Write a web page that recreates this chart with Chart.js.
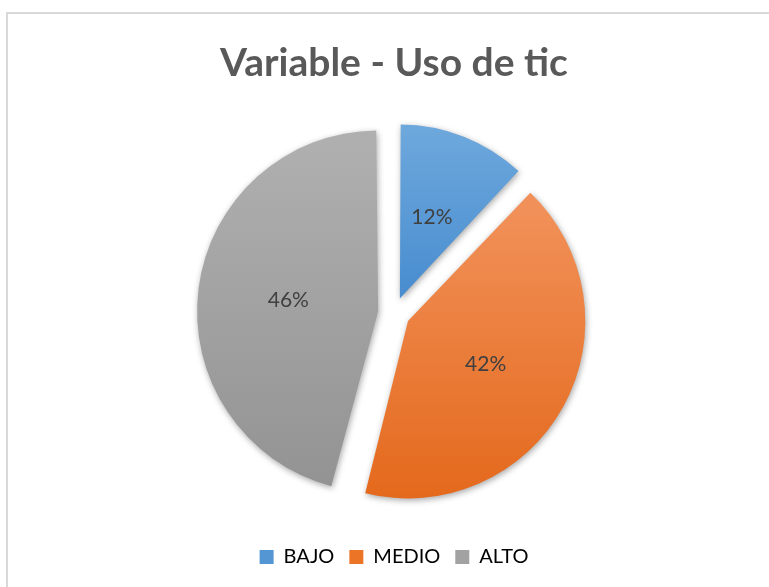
<!DOCTYPE html>
<html>
<head>
<meta charset="utf-8">
<script src="https://cdn.jsdelivr.net/npm/chart.js@4"></script>
<style>
  html, body { margin: 0; padding: 0; background: #fff; overflow: hidden; width: 769px; height: 587px; }
  #box { position: absolute; left: 6px; top: 12px; width: 790px; height: 600px;
         border-top: 2px solid #d9d9d9; border-left: 2px solid #d9d9d9; }
  #chart { position: absolute; left: 0; top: 0; }
</style>
</head>
<body>
<div id="box"><canvas id="chart" width="772" height="573"></canvas></div>
<script>
// Données du graphique
const categories = ['BAJO', 'MEDIO', 'ALTO'];
const valeurs = [12, 42, 46];
const etiquettes = ['12%', '42%', '46%'];

// Couleurs (haut / bas du dégradé) et couleur de légende
const couleursHaut = ['#6fa9dd', '#f19058', '#afafaf'];
const couleursBas = ['#4a8ed0', '#e4691c', '#939393'];
const stopsHaut = [0, 0.19, 0.03];
const stopsBas = [0.47, 1, 1];
const couleursLegende = ['#5496d4', '#ec7427', '#a2a2a2'];

// Chart.js v4 : translation = offset / 4, et le rayon grossit un peu selon l'angle de la part
const RAYON = 169;
const RAYON_VISIBLE = 177;
const ECART = 64;
const POLICE = 'Lato, "Open Sans", sans-serif';

// Dégradé vertical pour chaque part
function degrade(context) {
    const chart = context.chart;
    const area = chart.chartArea;
    const i = context.dataIndex;
    if (!area) return couleursBas[i];
    const cy = (area.top + area.bottom) / 2;
    const g = chart.ctx.createLinearGradient(0, cy - RAYON_VISIBLE, 0, cy + RAYON_VISIBLE);
    g.addColorStop(stopsHaut[i], couleursHaut[i]);
    g.addColorStop(stopsBas[i], couleursBas[i]);
    return g;
}

// Ombre légère sous les parts
const ombrePlugin = {
    id: 'ombre',
    beforeDatasetsDraw(chart) {
        const ctx = chart.ctx;
        ctx.save();
        ctx.shadowColor = 'rgba(0,0,0,0.35)';
        ctx.shadowBlur = 6;
        ctx.shadowOffsetX = 1;
        ctx.shadowOffsetY = 2;
    },
    afterDatasetsDraw(chart) {
        chart.ctx.restore();
    }
};

// Étiquettes de pourcentage au milieu de chaque part
const etiquettesPlugin = {
    id: 'etiquettes',
    afterDraw(chart) {
        const ctx = chart.ctx;
        const meta = chart.getDatasetMeta(0);
        ctx.save();
        ctx.font = '21px ' + POLICE;
        ctx.fillStyle = '#404040';
        ctx.textAlign = 'center';
        ctx.textBaseline = 'middle';
        meta.data.forEach((arc, i) => {
            const p = arc.getProps(['x', 'y', 'startAngle', 'endAngle', 'outerRadius'], true);
            const a = (p.startAngle + p.endAngle) / 2;
            const off = arc.options.offset / 4;
            const fix = 1 - Math.sin(Math.min(Math.PI, p.endAngle - p.startAngle));
            const d = off + 0.5 * (p.outerRadius + off * fix);
            ctx.fillText(etiquettes[i], p.x + Math.cos(a) * d, p.y + Math.sin(a) * d);
        });
        ctx.restore();
    }
};

const ctx = document.getElementById('chart').getContext('2d');
new Chart(ctx, {
    type: 'pie',
    data: {
        labels: categories,
        datasets: [{
            data: valeurs,
            backgroundColor: degrade,
            borderWidth: 0,
            offset: ECART,
            radius: RAYON
        }]
    },
    options: {
        responsive: false,
        animation: false,
        layout: { padding: { top: 0, bottom: 10, left: 0, right: 0 } },
        plugins: {
            tooltip: { enabled: false },
            title: {
                display: true,
                text: 'Variable - Uso de tic',
                color: '#595959',
                font: { family: POLICE, size: 39, weight: 'bold' },
                padding: { top: 26, bottom: 8 }
            },
            legend: {
                position: 'bottom',
                labels: {
                    color: '#595959',
                    font: { family: POLICE, size: 20 },
                    boxWidth: 14,
                    boxHeight: 14,
                    padding: 15,
                    generateLabels(chart) {
                        return categories.map((c, i) => ({
                            text: c,
                            fillStyle: couleursLegende[i],
                            strokeStyle: couleursLegende[i],
                            lineWidth: 0,
                            hidden: false,
                            index: i
                        }));
                    }
                }
            }
        }
    },
    plugins: [ombrePlugin, etiquettesPlugin]
});
</script>
</body>
</html>
